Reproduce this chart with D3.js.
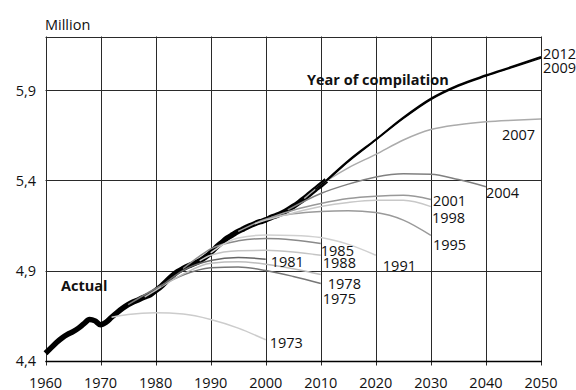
<!DOCTYPE html>
<html>
<head>
<meta charset="utf-8">
<script src="https://cdn.jsdelivr.net/npm/d3@7"></script>
<style>
  html, body { margin: 0; padding: 0; background: #fff; }
  svg { display: block; font-family: "Open Sans", "Noto Sans", sans-serif; }
</style>
</head>
<body>
<svg id="chart" width="576" height="390"></svg>
<script>
// ---- data ----
const xTicks = [1960, 1970, 1980, 1990, 2000, 2010, 2020, 2030, 2040, 2050];
const yTicks = [4.4, 4.9, 5.4, 5.9];
const yTickLabels = ["4,4", "4,9", "5,4", "5,9"];

const actualYears = [1960,1961,1962,1963,1964,1965,1966,1967,1968,1969,1970,1971,1972,1973,1974,1975,1976,1977,1978,1979,1980,1981,1982,1983,1984,1985,1986,1987,1988,1989,1990,1991,1992,1993,1994,1995,1996,1997,1998,1999,2000,2001,2002,2003,2004,2005,2006,2007,2008,2009,2010,2011];
const actualValues = [4.44,4.47,4.50,4.525,4.545,4.56,4.58,4.605,4.628,4.62,4.598,4.612,4.64,4.666,4.69,4.71,4.726,4.739,4.753,4.765,4.788,4.812,4.842,4.87,4.894,4.911,4.926,4.939,4.954,4.974,4.998,5.029,5.055,5.08,5.099,5.117,5.132,5.147,5.16,5.171,5.181,5.195,5.206,5.22,5.237,5.256,5.277,5.3,5.326,5.351,5.375,5.401];

const p1973Years = [1972, 1975, 1980, 1985, 1990, 1995, 2000];
const p1973Values = [4.64, 4.655, 4.665, 4.658, 4.628, 4.58, 4.515];
const p1975Years = [1975, 1980, 1985, 1990, 1995, 2000, 2005, 2010];
const p1975Values = [4.71, 4.80, 4.875, 4.915, 4.92, 4.9, 4.867, 4.828];
const p1978Years = [1978, 1980, 1985, 1990, 1995, 2000, 2005, 2010];
const p1978Values = [4.753, 4.79, 4.88, 4.94, 4.948, 4.935, 4.91, 4.878];
const p1981Years = [1981, 1985, 1990, 1995, 2000];
const p1981Values = [4.812, 4.9, 4.955, 4.972, 4.963];
const p1985Years = [1985, 1988, 1990, 1995, 2000, 2005, 2010];
const p1985Values = [4.911, 4.98, 5.02, 5.065, 5.078, 5.07, 5.05];
const p1988Years = [1988, 1990, 1995, 2000, 2005, 2010];
const p1988Values = [4.954, 4.985, 5.01, 5.012, 5.003, 4.985];
const p1991Years = [1990, 1992, 1995, 2000, 2005, 2010, 2015, 2020];
const p1991Values = [4.998, 5.04, 5.08, 5.097, 5.095, 5.083, 5.045, 4.985];
const p1995Years = [1995, 2000, 2005, 2010, 2015, 2020, 2025, 2030];
const p1995Values = [5.117, 5.185, 5.215, 5.228, 5.232, 5.222, 5.18, 5.095];
const p1998Years = [1998, 2000, 2005, 2010, 2015, 2020, 2025, 2030];
const p1998Values = [5.16, 5.18, 5.22, 5.255, 5.278, 5.29, 5.29, 5.255];
const p2001Years = [2001, 2005, 2010, 2015, 2020, 2025, 2030];
const p2001Values = [5.195, 5.235, 5.272, 5.3, 5.313, 5.318, 5.295];
const p2004Years = [2004, 2010, 2015, 2020, 2025, 2030, 2035, 2040];
const p2004Values = [5.237, 5.328, 5.38, 5.42, 5.438, 5.435, 5.405, 5.365];
const p2007Years = [2007, 2010, 2015, 2020, 2025, 2030, 2035, 2040, 2045, 2050];
const p2007Values = [5.30, 5.375, 5.47, 5.545, 5.625, 5.683, 5.71, 5.726, 5.735, 5.742];
const p2009Years = [2009, 2011, 2015, 2020, 2025, 2030, 2035, 2040, 2045, 2050];
const p2009Values = [5.351, 5.398, 5.505, 5.625, 5.745, 5.85, 5.925, 5.98, 6.03, 6.08];
const p2012Years = [2011, 2015, 2020, 2025, 2030, 2035, 2040, 2045, 2050];
const p2012Values = [5.401, 5.51, 5.628, 5.75, 5.855, 5.93, 5.985, 6.035, 6.087];

const seriesNames = ["1973","1975","1978","1981","1985","1988","1991","1995","1998","2001","2004","2007","2009","2012"];
const seriesYears = [p1973Years,p1975Years,p1978Years,p1981Years,p1985Years,p1988Years,p1991Years,p1995Years,p1998Years,p2001Years,p2004Years,p2007Years,p2009Years,p2012Years];
const seriesValues = [p1973Values,p1975Values,p1978Values,p1981Values,p1985Values,p1988Values,p1991Values,p1995Values,p1998Values,p2001Values,p2004Values,p2007Values,p2009Values,p2012Values];

// ---- styles / layout (kept separate from data) ----
const seriesColor = {
  "1973":"#cccccc","1975":"#777777","1978":"#bdbdbd","1981":"#666666","1985":"#8a8a8a",
  "1988":"#c4c4c4","1991":"#d0d0d0","1995":"#9a9a9a","1998":"#c8c8c8","2001":"#999999",
  "2004":"#808080","2007":"#ababab","2009":"#000000","2012":"#000000"
};
const labelOffset = {
  "1973":[4,8],"1975":[2,20.5],"1978":[7,14.5],"1981":[5,8],"1985":[0,12.5],
  "1988":[2,13],"1991":[7,16],"1995":[2,15],"1998":[1,16.5],"2001":[2,7],
  "2004":[0,11],"2007":[-39,21],"2009":[2,15],"2012":[2,2.3]
};

const svg = d3.select("#chart");
const x = d3.scaleLinear().domain([1960, 2050]).range([45.5, 541]);
const y = d3.scaleLinear().domain([4.4, 6.2]).range([360.5, 36.5]);

const grid = svg.append("g");
// vertical grid lines (extend below axis as ticks)
grid.selectAll("line.v").data(xTicks).join("line")
  .attr("x1", d => Math.round(x(d)) + 0.5).attr("x2", d => Math.round(x(d)) + 0.5)
  .attr("y1", y.range()[1]).attr("y2", y.range()[0] + 5)
  .attr("stroke", "#2a2a2a").attr("stroke-width", 1);
// horizontal grid lines
grid.selectAll("line.h").data(yTicks.concat([6.2])).join("line")
  .attr("x1", x.range()[0]).attr("x2", Math.round(x(2050)) + 0.5)
  .attr("y1", d => Math.round(y(d)) + 0.5).attr("y2", d => Math.round(y(d)) + 0.5)
  .attr("stroke", "#2a2a2a").attr("stroke-width", 1);
// bottom axis line
grid.append("line")
  .attr("x1", x.range()[0]).attr("x2", Math.round(x(2050)) + 1)
  .attr("y1", Math.round(y(4.4)) + 0.5).attr("y2", Math.round(y(4.4)) + 0.5)
  .attr("stroke", "#000").attr("stroke-width", 1.6);

// axis labels
svg.append("g").selectAll("text").data(xTicks).join("text")
  .attr("x", d => x(d)).attr("y", 388)
  .attr("text-anchor", "middle").attr("font-size", 14.5).attr("fill", "#111")
  .text(d => d);
svg.append("g").selectAll("text").data(yTicks).join("text")
  .attr("x", 36).attr("y", d => y(d) + 5)
  .attr("text-anchor", "end").attr("font-size", 14.5).attr("fill", "#111")
  .text((d, i) => yTickLabels[i]);

svg.append("text").attr("x", 45).attr("y", 30).attr("font-size", 14.5).attr("fill", "#111").text("Million");

const line = d3.line().x(d => x(d[0])).y(d => y(d[1])).curve(d3.curveMonotoneX);

// actual
svg.append("path")
  .datum(actualYears.map((yr, i) => [yr, actualValues[i]]))
  .attr("d", line).attr("fill", "none").attr("stroke", "#000")
  .attr("stroke-width", 5.5).attr("stroke-linejoin", "round").attr("stroke-linecap", "butt");

// projections
const order = seriesNames.map((n, i) => i);
svg.append("g").selectAll("path").data(order).join("path")
  .attr("d", i => line(seriesYears[i].map((yr, j) => [yr, seriesValues[i][j]])))
  .attr("fill", "none")
  .attr("stroke", i => seriesColor[seriesNames[i]])
  .attr("stroke-width", i => seriesNames[i] === "2012" ? 1.8 : 1.5);

// projection labels
svg.append("g").selectAll("text").data(order).join("text")
  .attr("x", i => x(seriesYears[i][seriesYears[i].length - 1]) + labelOffset[seriesNames[i]][0])
  .attr("y", i => y(seriesValues[i][seriesValues[i].length - 1]) + labelOffset[seriesNames[i]][1])
  .attr("font-size", 14.5).attr("fill", "#111")
  .text(i => seriesNames[i]);

svg.append("text").attr("x", 307).attr("y", 85).attr("font-size", 14.5).attr("font-weight", "bold").attr("fill", "#111").text("Year of compilation");
svg.append("text").attr("x", 61).attr("y", 290.5).attr("font-size", 14.5).attr("font-weight", "bold").attr("fill", "#111").text("Actual");
</script>
</body>
</html>
